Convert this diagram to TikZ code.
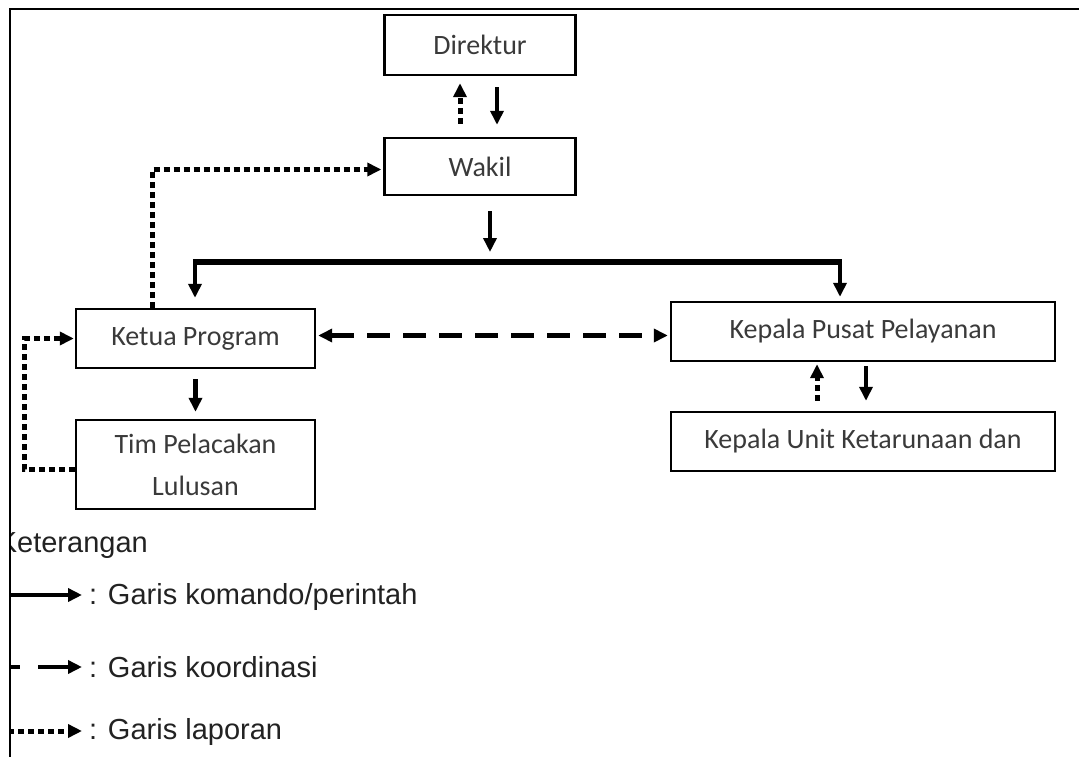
\documentclass[tikz,border=0pt]{standalone}
\usepackage{fontspec}
\usetikzlibrary{arrows.meta}
\newfontfamily\boxfont{Carlito}
\newfontfamily\legfont{Liberation Sans}
\definecolor{boxtext}{HTML}{3A3A3A}
\definecolor{legtext}{HTML}{222222}
\tikzset{
  orgbox/.style={draw=black, line width=2.4pt, inner sep=0pt, align=center,
    text=boxtext, font=\boxfont\fontsize{28}{42}\selectfont},
  headtip/.style={-{Triangle[length=14pt,width=13pt]}},
  cmdline/.style={headtip, line width=4.5pt},
  busline/.style={line width=6.5pt},
  repline/.style={headtip, line width=5pt, dash pattern=on 6pt off 4pt},
  coordline/.style={{Triangle[length=14pt,width=13pt]}-{Triangle[length=14pt,width=13pt]}, line width=5pt, dash pattern=on 23pt off 13pt},
  legtxt/.style={inner sep=0pt, text=legtext, font=\legfont\fontsize{29}{34}\selectfont},
}
\begin{document}
\begin{tikzpicture}[x=1pt,y=-1pt]
\useasboundingbox (0,0) rectangle (1079,757);

% boxes
\node[orgbox, minimum width=191pt, minimum height=60pt] (dir) at (480,45) {Direktur};
\node[orgbox, minimum width=191pt, minimum height=57pt] (wak) at (480,166.5) {Wakil};
\node[orgbox, minimum width=239pt, minimum height=59pt] (ketua) at (195.5,338.5) {Ketua Program};
\node[orgbox, minimum width=239pt, minimum height=89pt] (tim) at (195.5,464.5) {Tim Pelacakan\\Lulusan};
\node[orgbox, minimum width=384pt, minimum height=59pt] (kpp) at (863,331.5) {Kepala Pusat Pelayanan};
\node[orgbox, minimum width=384pt, minimum height=59pt] (unit) at (863,441.5) {Kepala Unit Ketarunaan dan};

% Direktur <-> Wakil
\draw[cmdline] ([xshift=17pt,yshift=-11pt]dir.south) -- ([xshift=17pt,yshift=12pt]wak.north);
\draw[repline] ([xshift=-20pt,yshift=13pt]wak.north) -- ([xshift=-20pt,yshift=-7pt]dir.south);

% bus
\coordinate (bl) at (195,262);
\coordinate (br) at (840,262);
\coordinate (bm) at (490,262);
\draw[cmdline] ([xshift=10pt,yshift=-15pt]wak.south) -- ([yshift=10pt]bm);
\draw[busline] ([xshift=-2.25pt]bl) -- ([xshift=2.25pt]br);
\draw[cmdline, shorten >=10pt] ([yshift=2pt]bl) -- (bl |- ketua.north);
\draw[cmdline, shorten >=4pt] ([yshift=2pt]br) -- (br |- kpp.north);

% Ketua -> Tim
\draw[cmdline] ([yshift=-10pt]ketua.south) -- ([yshift=7pt]tim.north);

% coordination
\draw[coordline, shorten <=2pt, shorten >=2pt] ([yshift=3pt]ketua.east) -- ([yshift=3pt]ketua.east -| kpp.west);

% reports
\draw[repline, shorten >=2pt] ([xshift=-43.5pt]ketua.north) |- ([yshift=-3pt]wak.west);
\draw[repline, shorten >=1pt] ([yshift=-5pt]tim.west) -- ++(-50,0) |- (ketua.west);

% Kepala Pusat <-> Unit
\draw[cmdline] ([xshift=3pt,yshift=-4pt]kpp.south) -- ([xshift=3pt,yshift=10pt]unit.north);
\draw[repline] ([xshift=-46pt,yshift=10pt]unit.north) -- ([xshift=-46pt,yshift=-2pt]kpp.south);

% legend
\node[legtxt, anchor=east] (ket) at (148,546) {Keterangan};
\coordinate (l1a) at (8,595);  \coordinate (l1b) at (82,595);
\coordinate (l2a) at (8,667);  \coordinate (l2b) at (82,667);
\coordinate (l3a) at (8,731);  \coordinate (l3b) at (82,731);
\draw[cmdline] (l1a) -- (l1b);
\draw[headtip, line width=4.5pt, dash pattern=on 12pt off 18pt on 60pt] (l2a) -- (l2b);
\draw[headtip, line width=5pt, dash pattern=on 6pt off 4pt] (l3a) -- (l3b);
\node[legtxt, anchor=west] (t1) at (89,597) {: Garis komando/perintah};
\node[legtxt, anchor=west] (t2) at (89,667) {: Garis koordinasi};
\node[legtxt, anchor=west] (t3) at (89,732) {: Garis laporan};

% white margin and frame
\fill[white] (0,0) rectangle (9,757);
\draw[line width=2.5pt] (10,757) -- (10,9) -- (1079,9);
\end{tikzpicture}
\end{document}
